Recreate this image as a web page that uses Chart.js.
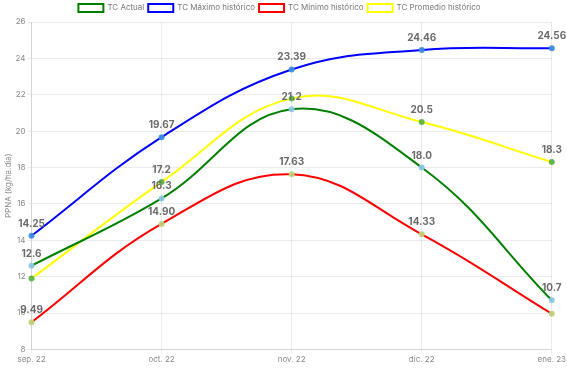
<!DOCTYPE html>
<html>
<head>
<meta charset="utf-8">
<script src="https://cdn.jsdelivr.net/npm/chart.js@4"></script>
<style>
  html, body { margin: 0; padding: 0; background: #fff; }
  #wrap { width: 567px; height: 368px; }
</style>
</head>
<body>
<div id="wrap"><canvas id="ppnaChart"></canvas></div>
<script>
const meses = ["sep. 22", "oct. 22", "nov. 22", "dic. 22", "ene. 23"];

const tcActual = [12.6, 16.3, 21.2, 18.0, 10.7];
const tcMaximo = [14.25, 19.67, 23.39, 24.46, 24.56];
const tcMinimo = [9.49, 14.9, 17.63, 14.33, 9.96];
const tcPromedio = [11.9, 17.2, 21.8, 20.5, 18.3];

// etiquetas visibles (null = oculta)
const etqActual = ["12.6", "16.3", "21.2", "18.0", "10.7"];
const etqMaximo = ["14.25", "19.67", "23.39", "24.46", "24.56"];
const etqMinimo = ["9.49", "14.90", "17.63", "14.33", null];
const etqPromedio = [null, "17.2", null, "20.5", "18.3"];

Chart.defaults.font.family = "Inter, 'Noto Sans', sans-serif";
Chart.defaults.color = "#888";

const etiquetasPlugin = {
  id: "etiquetas",
  afterDatasetsDraw(chart) {
    const ctx = chart.ctx;
    ctx.save();
    ctx.font = "bold 10px Inter, 'Noto Sans', sans-serif";
    ctx.fillStyle = "#6a6a6a";
    ctx.textAlign = "center";
    ctx.textBaseline = "middle";
    chart.data.datasets.forEach((ds, i) => {
      const meta = chart.getDatasetMeta(i);
      meta.data.forEach((pt, j) => {
        const txt = ds.etiquetas[j];
        if (txt) ctx.fillText(txt, pt.x, pt.y - 12);
      });
    });
    ctx.restore();
  },
};

function serie(label, data, color, pointColor, etiquetas) {
  return {
    label: label,
    data: data,
    etiquetas: etiquetas,
    borderColor: color,
    backgroundColor: "#fff",
    borderWidth: 2,
    pointBackgroundColor: pointColor,
    pointBorderColor: pointColor,
    pointRadius: 2,
    tension: 0.4,
    fill: false,
  };
}

new Chart(document.getElementById("ppnaChart"), {
  type: "line",
  data: {
    labels: meses,
    datasets: [
      serie("TC Actual", tcActual, "green", "rgba(140,200,230,0.9)", etqActual),
      serie("TC Máximo histórico", tcMaximo, "blue", "rgba(60,140,230,0.9)", etqMaximo),
      serie("TC Mínimo histórico", tcMinimo, "red", "rgba(190,210,120,0.9)", etqMinimo),
      serie("TC Promedio histórico", tcPromedio, "yellow", "rgba(90,180,70,0.9)", etqPromedio),
    ],
  },
  options: {
    responsive: true,
    maintainAspectRatio: false,
    animation: false,
    layout: { padding: { left: 4, right: 12, top: 0, bottom: 3 } },
    plugins: {
      legend: {
        position: "top",
        labels: {
          boxWidth: 25,
          boxHeight: 8,
          padding: 4,
          color: "#777",
          font: { size: 8 },
        },
      },
      tooltip: { enabled: false },
    },
    scales: {
      x: {
        grid: { color: "rgba(0,0,0,0.08)", tickLength: 4 },
        ticks: { font: { size: 8 }, color: "#888", padding: 1 },
      },
      y: {
        min: 8,
        max: 26,
        grid: { color: "rgba(0,0,0,0.08)", tickLength: 4 },
        ticks: { stepSize: 2, font: { size: 8 }, color: "#888", padding: 2 },
        title: {
          display: true,
          text: "PPNA (kg/ha.dia)",
          font: { size: 8 },
          color: "#888",
          padding: 0,
        },
      },
    },
  },
  plugins: [etiquetasPlugin],
});
</script>
</body>
</html>
